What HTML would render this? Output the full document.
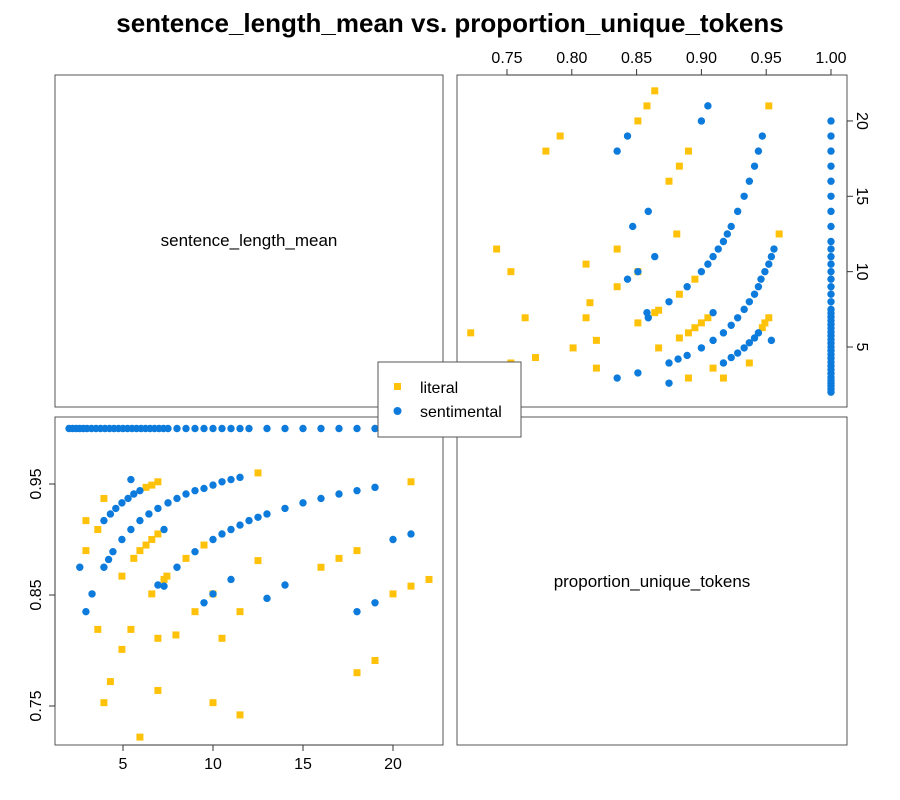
<!DOCTYPE html>
<html><head><meta charset="utf-8"><style>
body{margin:0;background:#fff;}
svg{display:block;font-family:"Liberation Sans",sans-serif;}
</style></head><body>
<svg id="c" width="900" height="800">
<text x="450" y="32" text-anchor="middle" font-size="26" font-weight="bold">sentence_length_mean vs. proportion_unique_tokens</text>
<rect x="55" y="75" width="388" height="332" fill="none" stroke="#555"/>
<rect x="457" y="75" width="390" height="332" fill="none" stroke="#555"/>
<rect x="55" y="417" width="388" height="328" fill="none" stroke="#555"/>
<rect x="457" y="417" width="390" height="328" fill="none" stroke="#555"/>
<text x="249" y="246" text-anchor="middle" font-size="17">sentence_length_mean</text>
<text x="652" y="587" text-anchor="middle" font-size="17">proportion_unique_tokens</text>
<g id="marks"></g>
<g id="axes"></g>
<g>
<rect x="378" y="362" width="143" height="75" fill="#fff" stroke="#555"/>
<rect x="394" y="383" width="7" height="7" fill="#FFC20A"/>
<text x="420" y="393" font-size="16">literal</text>
<circle cx="397.5" cy="411" r="4" fill="#0C7BDC"/>
<text x="420" y="417" font-size="16">sentimental</text>
</g>
</svg>
<script>
const litLen=[3.94,2.94,3.6,2.94,4.94,6.28,6.6,6.94,6.94,6.6,6.28,5.94,5.6,7.44,7.28,9.5,8.5,12.5,21,12.5,16,17,18,21,22,6.6,10,9,11.5,3.6,5.44,4.94,6.94,7.94,10.5,4.3,3.94,6.94,10,11.5,5.94,18,19,20];
const litProp=[0.937,0.917,0.909,0.890,0.867,0.947,0.949,0.952,0.905,0.900,0.895,0.890,0.883,0.867,0.864,0.895,0.883,0.960,0.952,0.881,0.875,0.883,0.890,0.858,0.864,0.851,0.851,0.835,0.835,0.819,0.819,0.801,0.811,0.814,0.811,0.772,0.753,0.764,0.753,0.742,0.722,0.780,0.791,0.851];
const senLen=[3.94,4.3,4.6,4.94,5.28,5.6,5.94,5.44,
3.94,4.2,4.44,4.94,5.44,5.94,6.44,6.94,7.5,8,8.5,9,9.5,10,10.5,11,11.5,
6.94,8,9,10,10.5,11,11.5,12,12.5,13,14,15,16,17,18,19,
20,21,7.28,14,11,2.6,3.28,2.94,7.28,10,9.5,13,18,19,
2,2.2,2.4,2.6,2.8,3,3.25,3.5,3.75,4,4.25,4.5,4.75,5,5.25,5.5,5.75,6,6.25,6.5,6.75,7,7.25,7.5,8,8.5,9,9.5,10,10.5,11,11.5,12,13,14,15,16,17,18,19,20];
const senProp=[0.917,0.923,0.928,0.933,0.937,0.941,0.944,0.954,
0.875,0.882,0.889,0.900,0.909,0.917,0.923,0.928,0.933,0.937,0.941,0.944,0.946,0.949,0.952,0.954,0.956,
0.859,0.875,0.889,0.900,0.905,0.909,0.913,0.917,0.920,0.923,0.928,0.933,0.937,0.941,0.944,0.947,
0.900,0.905,0.909,0.859,0.864,0.875,0.851,0.835,0.858,0.851,0.843,0.847,0.835,0.843,
1,1,1,1,1,1,1,1,1,1,1,1,1,1,1,1,1,1,1,1,1,1,1,1,1,1,1,1,1,1,1,1,1,1,1,1,1,1,1,1,1];
const lenTicks=[5,10,15,20];
const propTicksLeft=[0.75,0.85,0.95];
const propTicksTop=[0.75,0.80,0.85,0.90,0.95,1.00];
const lenTicksRight=[5,10,15,20];

const NS="http://www.w3.org/2000/svg";
const xLenBL=v=>33+18*v, yPropBL=v=>484-(v-0.95)*1110;
const xPropTR=v=>507+(v-0.75)*1296, yLenTR=v=>347-(v-5)*15.07;
const marks=document.getElementById('marks'), axes=document.getElementById('axes');
function mk(tag,attrs,parent){const e=document.createElementNS(NS,tag);for(const k in attrs)e.setAttribute(k,attrs[k]);parent.appendChild(e);return e;}
function sq(x,y,name){const e=mk('rect',{x:x-3.5,y:y-3.5,width:7,height:7,fill:'#FFC20A'},marks);

}
function dot(x,y,name){const e=mk('circle',{cx:x,cy:y,r:3.7,fill:'#0C7BDC'},marks);

}
litLen.forEach((l,i)=>{sq(xLenBL(l),yPropBL(litProp[i]),'literal-point');sq(xPropTR(litProp[i]),yLenTR(l),'literal-point');});
senLen.forEach((l,i)=>{dot(xLenBL(l),yPropBL(senProp[i]),'sentimental-point');dot(xPropTR(senProp[i]),yLenTR(l),'sentimental-point');});
// bottom x axis
mk('line',{x1:xLenBL(5),x2:xLenBL(20),y1:745,y2:745,stroke:'#333'},axes);
lenTicks.forEach(t=>{const x=xLenBL(t);mk('line',{x1:x,x2:x,y1:745,y2:751,stroke:'#333'},axes);
const e=mk('text',{x:x,y:769,'text-anchor':'middle','font-size':16},axes);e.textContent=t;

});
// left y axis
mk('line',{x1:55,x2:55,y1:yPropBL(0.75),y2:yPropBL(0.95),stroke:'#333'},axes);
propTicksLeft.forEach(t=>{const y=yPropBL(t);mk('line',{x1:49,x2:55,y1:y,y2:y,stroke:'#333'},axes);
const e=mk('text',{x:0,y:0,'text-anchor':'middle','font-size':16,transform:`translate(41,${y}) rotate(-90)`},axes);e.textContent=t.toFixed(2);

});
// top axis
mk('line',{x1:xPropTR(0.75),x2:xPropTR(1),y1:75,y2:75,stroke:'#333'},axes);
propTicksTop.forEach(t=>{const x=xPropTR(t);mk('line',{x1:x,x2:x,y1:69,y2:75,stroke:'#333'},axes);
const e=mk('text',{x:x,y:63,'text-anchor':'middle','font-size':16},axes);e.textContent=t.toFixed(2);

});
// right axis
mk('line',{x1:847,x2:847,y1:yLenTR(5),y2:yLenTR(20),stroke:'#333'},axes);
lenTicksRight.forEach(t=>{const y=yLenTR(t);mk('line',{x1:847,x2:853,y1:y,y2:y,stroke:'#333'},axes);
const e=mk('text',{x:0,y:0,'text-anchor':'middle','font-size':16,transform:`translate(857,${y}) rotate(90)`},axes);e.textContent=t;

});
</script>
</body></html>
